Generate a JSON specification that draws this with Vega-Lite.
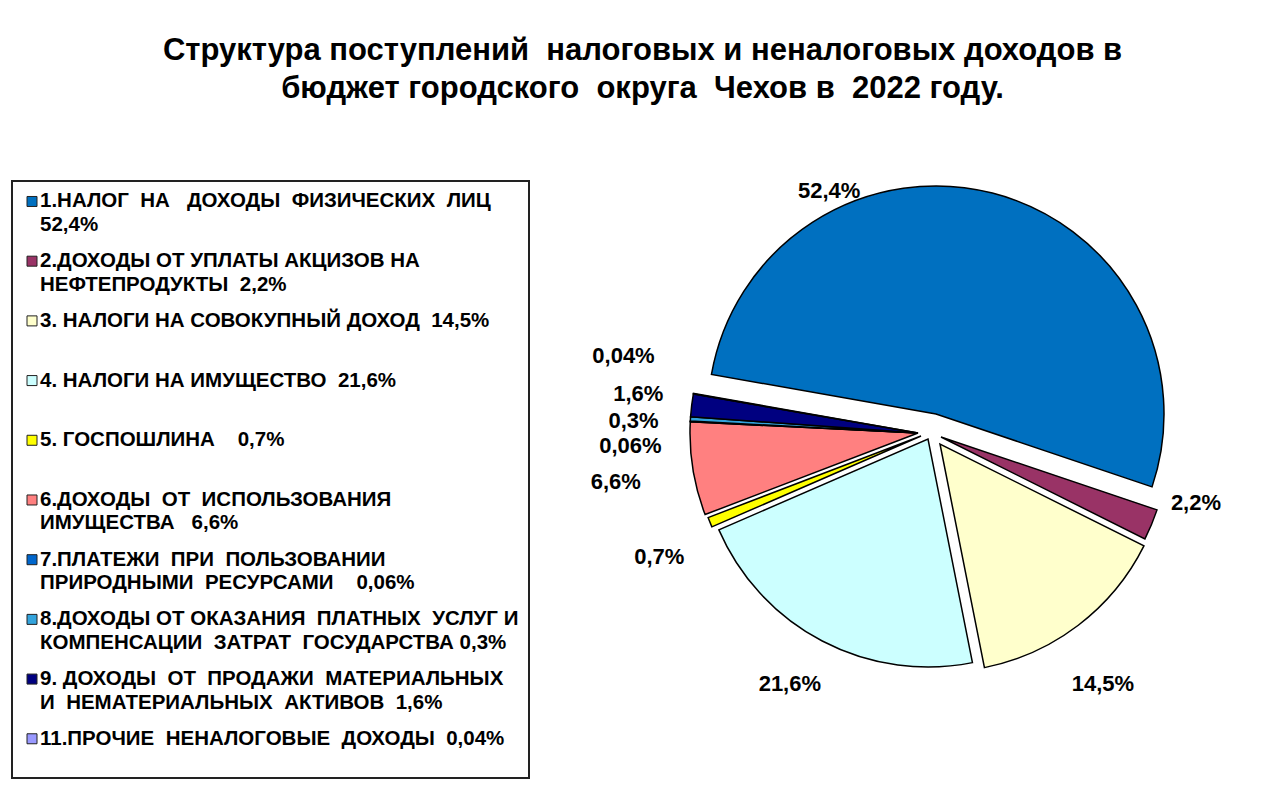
{
  "$schema": "https://vega.github.io/schema/vega-lite/v6.json",
  "background": "white",
  "padding": {"left": 11, "top": 35, "right": 7, "bottom": 21},
  "bounds": "flush",
  "spacing": 57,
  "title": {
    "text": ["Структура поступлений\u00a0 налоговых и неналоговых доходов в", "бюджет городского\u00a0 округа\u00a0 Чехов в\u00a0 2022 году."],
    "font": "Liberation Sans",
    "fontSize": 31,
    "fontWeight": "bold",
    "color": "black",
    "lineHeight": 38,
    "anchor": "middle",
    "offset": -19
  },
  "config": {"view": {"stroke": null}, "font": "Liberation Sans"},
  "datasets": {
    "d": [
      {"n": 1, "key": "1", "share": 52.4, "lab": "52,4%", "l1": "1.НАЛОГ\u00a0 НА\u00a0\u00a0 ДОХОДЫ\u00a0 ФИЗИЧЕСКИХ\u00a0 ЛИЦ", "l2": "52,4%"},
      {"n": 2, "key": "2", "share": 2.2, "lab": "2,2%", "l1": "2.ДОХОДЫ ОТ УПЛАТЫ АКЦИЗОВ НА", "l2": "НЕФТЕПРОДУКТЫ\u00a0 2,2%"},
      {"n": 3, "key": "3", "share": 14.5, "lab": "14,5%", "l1": "3. НАЛОГИ НА СОВОКУПНЫЙ ДОХОД\u00a0 14,5%", "l2": ""},
      {"n": 4, "key": "4", "share": 21.6, "lab": "21,6%", "l1": "4. НАЛОГИ НА ИМУЩЕСТВО\u00a0 21,6%", "l2": ""},
      {"n": 5, "key": "5", "share": 0.7, "lab": "0,7%", "l1": "5. ГОСПОШЛИНА\u00a0\u00a0\u00a0 0,7%", "l2": ""},
      {"n": 6, "key": "6", "share": 6.6, "lab": "6,6%", "l1": "6.ДОХОДЫ\u00a0 ОТ\u00a0 ИСПОЛЬЗОВАНИЯ", "l2": "ИМУЩЕСТВА\u00a0\u00a0 6,6%"},
      {"n": 7, "key": "7", "share": 0.06, "lab": "0,06%", "l1": "7.ПЛАТЕЖИ\u00a0 ПРИ\u00a0 ПОЛЬЗОВАНИИ", "l2": "ПРИРОДНЫМИ\u00a0 РЕСУРСАМИ\u00a0\u00a0\u00a0 0,06%"},
      {"n": 8, "key": "8", "share": 0.3, "lab": "0,3%", "l1": "8.ДОХОДЫ ОТ ОКАЗАНИЯ\u00a0 ПЛАТНЫХ\u00a0 УСЛУГ И", "l2": "КОМПЕНСАЦИИ\u00a0 ЗАТРАТ\u00a0 ГОСУДАРСТВА 0,3%"},
      {"n": 9, "key": "9", "share": 1.6, "lab": "1,6%", "l1": "9. ДОХОДЫ\u00a0 ОТ\u00a0 ПРОДАЖИ\u00a0 МАТЕРИАЛЬНЫХ", "l2": "И\u00a0 НЕМАТЕРИАЛЬНЫХ\u00a0 АКТИВОВ\u00a0 1,6%"},
      {"n": 11, "key": "11", "share": 0.04, "lab": "0,04%", "l1": "11.ПРОЧИЕ\u00a0 НЕНАЛОГОВЫЕ\u00a0 ДОХОДЫ\u00a0 0,04%", "l2": ""}
    ]
  },
  "hconcat": [
    {
      "width": 517,
      "height": 597,
      "view": {"stroke": "#222222", "strokeWidth": 2},
      "data": {"name": "d"},
      "encoding": {
        "y": {"field": "n", "type": "ordinal", "axis": null, "sort": "ascending", "scale": {"type": "point", "padding": 0.5, "align": 0.343}}
      },
      "layer": [
        {
          "mark": {"type": "point", "shape": "square", "filled": true, "size": 100, "stroke": "#222222", "strokeWidth": 1, "opacity": 1, "x": 20},
          "encoding": {
            "color": {"field": "key", "type": "nominal", "legend": null,
              "scale": {"domain": ["1","2","3","4","5","6","7","8","9","11"], "range": ["#0070C0","#993366","#FFFFCC","#CCFFFF","#FFFF00","#FF8080","#0066CC","#33A3DC","#000080","#9999FF"]}}
          }
        },
        {
          "mark": {"type": "text", "align": "left", "baseline": "middle", "x": 28, "fontSize": 20.5, "fontWeight": "bold", "color": "black"},
          "encoding": {"text": {"field": "l1"}}
        },
        {
          "mark": {"type": "text", "align": "left", "baseline": "middle", "x": 28, "dy": 23.5, "fontSize": 20.5, "fontWeight": "bold", "color": "black"},
          "encoding": {"text": {"field": "l2"}}
        }
      ]
    },
    {
      "width": 688,
      "height": 512,
      "data": {"name": "d"},
      "transform": [{"stack": "share", "groupby": [], "sort": [{"field": "n", "order": "ascending"}], "as": ["t0", "t1"]}],
      "layer": [
        {
          "transform": [{"filter": "datum.n == 1"}],
          "mark": {"type": "arc", "outerRadius": 228, "stroke": "black", "strokeWidth": 1.5, "xOffset": 6, "yOffset": -23},
          "encoding": {
            "theta": {"field": "t0", "type": "quantitative", "stack": null, "scale": {"domain": [0, 100], "range": [-1.3963, 4.8869]}},
            "theta2": {"field": "t1"},
            "color": {"field": "key", "type": "nominal", "legend": null, "scale": {"domain": ["1","2","3","4","5","6","7","8","9","11"], "range": ["#0070C0","#993366","#FFFFCC","#CCFFFF","#FFFF00","#FF8080","#0066CC","#33A3DC","#000080","#9999FF"]}}
          }
        },
        {
          "transform": [{"filter": "datum.n == 2"}],
          "mark": {"type": "arc", "outerRadius": 228, "stroke": "black", "strokeWidth": 1.5, "xOffset": 11, "yOffset": 0},
          "encoding": {
            "theta": {"field": "t0", "type": "quantitative", "stack": null, "scale": {"domain": [0, 100], "range": [-1.3963, 4.8869]}},
            "theta2": {"field": "t1"},
            "color": {"field": "key", "type": "nominal", "legend": null, "scale": {"domain": ["1","2","3","4","5","6","7","8","9","11"], "range": ["#0070C0","#993366","#FFFFCC","#CCFFFF","#FFFF00","#FF8080","#0066CC","#33A3DC","#000080","#9999FF"]}}
          }
        },
        {
          "transform": [{"filter": "datum.n == 3"}],
          "mark": {"type": "arc", "outerRadius": 228, "stroke": "black", "strokeWidth": 1.5, "xOffset": 10, "yOffset": 7},
          "encoding": {
            "theta": {"field": "t0", "type": "quantitative", "stack": null, "scale": {"domain": [0, 100], "range": [-1.3963, 4.8869]}},
            "theta2": {"field": "t1"},
            "color": {"field": "key", "type": "nominal", "legend": null, "scale": {"domain": ["1","2","3","4","5","6","7","8","9","11"], "range": ["#0070C0","#993366","#FFFFCC","#CCFFFF","#FFFF00","#FF8080","#0066CC","#33A3DC","#000080","#9999FF"]}}
          }
        },
        {
          "transform": [{"filter": "datum.n == 4"}],
          "mark": {"type": "arc", "outerRadius": 228, "stroke": "black", "strokeWidth": 1.5, "xOffset": -2, "yOffset": 2},
          "encoding": {
            "theta": {"field": "t0", "type": "quantitative", "stack": null, "scale": {"domain": [0, 100], "range": [-1.3963, 4.8869]}},
            "theta2": {"field": "t1"},
            "color": {"field": "key", "type": "nominal", "legend": null, "scale": {"domain": ["1","2","3","4","5","6","7","8","9","11"], "range": ["#0070C0","#993366","#FFFFCC","#CCFFFF","#FFFF00","#FF8080","#0066CC","#33A3DC","#000080","#9999FF"]}}
          }
        },
        {
          "transform": [{"filter": "datum.n == 5"}],
          "mark": {"type": "arc", "outerRadius": 228, "stroke": "black", "strokeWidth": 1.5, "xOffset": -9, "yOffset": -1},
          "encoding": {
            "theta": {"field": "t0", "type": "quantitative", "stack": null, "scale": {"domain": [0, 100], "range": [-1.3963, 4.8869]}},
            "theta2": {"field": "t1"},
            "color": {"field": "key", "type": "nominal", "legend": null, "scale": {"domain": ["1","2","3","4","5","6","7","8","9","11"], "range": ["#0070C0","#993366","#FFFFCC","#CCFFFF","#FFFF00","#FF8080","#0066CC","#33A3DC","#000080","#9999FF"]}}
          }
        },
        {
          "transform": [{"filter": "datum.n >= 6"}],
          "mark": {"type": "arc", "outerRadius": 228, "stroke": "black", "strokeWidth": 1.5, "xOffset": -12, "yOffset": -4},
          "encoding": {
            "theta": {"field": "t0", "type": "quantitative", "stack": null, "scale": {"domain": [0, 100], "range": [-1.3963, 4.8869]}},
            "theta2": {"field": "t1"},
            "color": {"field": "key", "type": "nominal", "legend": null, "scale": {"domain": ["1","2","3","4","5","6","7","8","9","11"], "range": ["#0070C0","#993366","#FFFFCC","#CCFFFF","#FFFF00","#FF8080","#0066CC","#33A3DC","#000080","#9999FF"]}}
          }
        },
        {
          "mark": {"type": "text", "radius": 300, "fontSize": 22, "fontWeight": "bold", "color": "black", "dx": -175, "dy": 45},
          "encoding": {
            "theta": {"field": "share", "type": "quantitative", "stack": true, "scale": {"domain": [0, 100], "range": [-1.3963, 4.8869]}},
            "order": {"field": "n", "type": "quantitative"},
            "detail": {"field": "key"},
            "text": {"condition": {"test": "datum.n == 1", "field": "lab"}, "value": ""}
          }
        },
        {
          "mark": {"type": "text", "radius": 300, "fontSize": 22, "fontWeight": "bold", "color": "black", "dx": -11, "dy": -49},
          "encoding": {
            "theta": {"field": "share", "type": "quantitative", "stack": true, "scale": {"domain": [0, 100], "range": [-1.3963, 4.8869]}},
            "order": {"field": "n", "type": "quantitative"},
            "detail": {"field": "key"},
            "text": {"condition": {"test": "datum.n == 2", "field": "lab"}, "value": ""}
          }
        },
        {
          "mark": {"type": "text", "radius": 300, "fontSize": 22, "fontWeight": "bold", "color": "black", "dx": -9, "dy": 8},
          "encoding": {
            "theta": {"field": "share", "type": "quantitative", "stack": true, "scale": {"domain": [0, 100], "range": [-1.3963, 4.8869]}},
            "order": {"field": "n", "type": "quantitative"},
            "detail": {"field": "key"},
            "text": {"condition": {"test": "datum.n == 3", "field": "lab"}, "value": ""}
          }
        },
        {
          "mark": {"type": "text", "radius": 300, "fontSize": 22, "fontWeight": "bold", "color": "black", "dx": -1, "dy": -19},
          "encoding": {
            "theta": {"field": "share", "type": "quantitative", "stack": true, "scale": {"domain": [0, 100], "range": [-1.3963, 4.8869]}},
            "order": {"field": "n", "type": "quantitative"},
            "detail": {"field": "key"},
            "text": {"condition": {"test": "datum.n == 4", "field": "lab"}, "value": ""}
          }
        },
        {
          "mark": {"type": "text", "radius": 300, "fontSize": 22, "fontWeight": "bold", "color": "black", "dx": 7, "dy": 7},
          "encoding": {
            "theta": {"field": "share", "type": "quantitative", "stack": true, "scale": {"domain": [0, 100], "range": [-1.3963, 4.8869]}},
            "order": {"field": "n", "type": "quantitative"},
            "detail": {"field": "key"},
            "text": {"condition": {"test": "datum.n == 5", "field": "lab"}, "value": ""}
          }
        },
        {
          "mark": {"type": "text", "radius": 300, "fontSize": 22, "fontWeight": "bold", "color": "black", "dx": -18, "dy": -2},
          "encoding": {
            "theta": {"field": "share", "type": "quantitative", "stack": true, "scale": {"domain": [0, 100], "range": [-1.3963, 4.8869]}},
            "order": {"field": "n", "type": "quantitative"},
            "detail": {"field": "key"},
            "text": {"condition": {"test": "datum.n == 6", "field": "lab"}, "value": ""}
          }
        },
        {
          "mark": {"type": "text", "radius": 300, "fontSize": 22, "fontWeight": "bold", "color": "black", "dx": 0, "dy": 24},
          "encoding": {
            "theta": {"field": "share", "type": "quantitative", "stack": true, "scale": {"domain": [0, 100], "range": [-1.3963, 4.8869]}},
            "order": {"field": "n", "type": "quantitative"},
            "detail": {"field": "key"},
            "text": {"condition": {"test": "datum.n == 7", "field": "lab"}, "value": ""}
          }
        },
        {
          "mark": {"type": "text", "radius": 300, "fontSize": 22, "fontWeight": "bold", "color": "black", "dx": 3, "dy": 3},
          "encoding": {
            "theta": {"field": "share", "type": "quantitative", "stack": true, "scale": {"domain": [0, 100], "range": [-1.3963, 4.8869]}},
            "order": {"field": "n", "type": "quantitative"},
            "detail": {"field": "key"},
            "text": {"condition": {"test": "datum.n == 8", "field": "lab"}, "value": ""}
          }
        },
        {
          "mark": {"type": "text", "radius": 300, "fontSize": 22, "fontWeight": "bold", "color": "black", "dx": 6, "dy": -7},
          "encoding": {
            "theta": {"field": "share", "type": "quantitative", "stack": true, "scale": {"domain": [0, 100], "range": [-1.3963, 4.8869]}},
            "order": {"field": "n", "type": "quantitative"},
            "detail": {"field": "key"},
            "text": {"condition": {"test": "datum.n == 9", "field": "lab"}, "value": ""}
          }
        },
        {
          "mark": {"type": "text", "radius": 300, "fontSize": 22, "fontWeight": "bold", "color": "black", "dx": -11, "dy": -29},
          "encoding": {
            "theta": {"field": "share", "type": "quantitative", "stack": true, "scale": {"domain": [0, 100], "range": [-1.3963, 4.8869]}},
            "order": {"field": "n", "type": "quantitative"},
            "detail": {"field": "key"},
            "text": {"condition": {"test": "datum.n == 11", "field": "lab"}, "value": ""}
          }
        }
      ]
    }
  ]
}
